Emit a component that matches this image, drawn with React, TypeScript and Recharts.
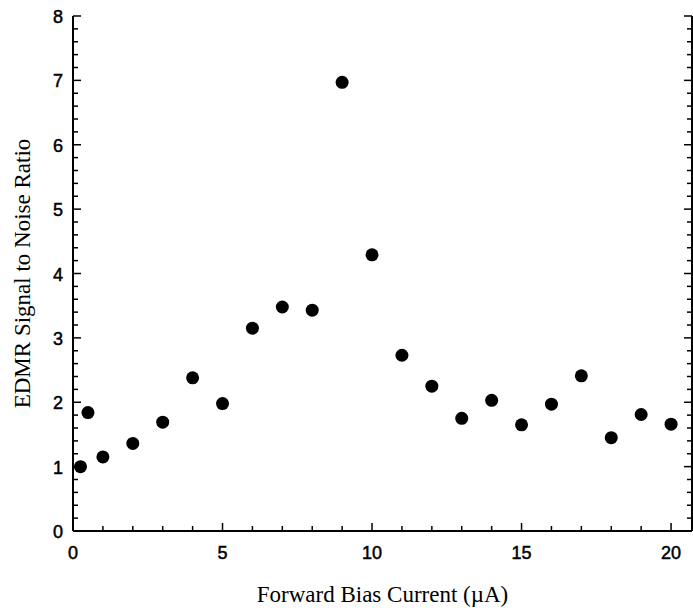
import React from 'react';
import { ScatterChart, Scatter, XAxis, YAxis } from 'recharts';

// Forward bias current (µA)
const currents = [0.25, 0.5, 1, 2, 3, 4, 5, 6, 7, 8, 9, 10, 11, 12, 13, 14, 15, 16, 17, 18, 19, 20];
// EDMR signal to noise ratio
const snr = [1.0, 1.84, 1.15, 1.36, 1.69, 2.38, 1.98, 3.15, 3.48, 3.43, 6.97, 4.29, 2.73, 2.25, 1.75, 2.03, 1.65, 1.97, 2.41, 1.45, 1.81, 1.66];

const xTicks = [0, 1, 2, 3, 4, 5, 6, 7, 8, 9, 10, 11, 12, 13, 14, 15, 16, 17, 18, 19, 20];
const xMajor = [0, 5, 10, 15, 20];
const yTicks = [
  0, 0.2, 0.4, 0.6, 0.8, 1, 1.2, 1.4, 1.6, 1.8, 2, 2.2, 2.4, 2.6, 2.8, 3, 3.2, 3.4, 3.6, 3.8,
  4, 4.2, 4.4, 4.6, 4.8, 5, 5.2, 5.4, 5.6, 5.8, 6, 6.2, 6.4, 6.6, 6.8, 7, 7.2, 7.4, 7.6, 7.8, 8,
];
const yMajor = [0, 1, 2, 3, 4, 5, 6, 7, 8];

const data = currents.map((x, i) => ({ x, y: snr[i] }));

const TICK_FONT = {
  fontFamily: '"Liberation Sans", Arial, sans-serif',
  fontSize: 18,
  fill: '#000',
  stroke: '#000',
  strokeWidth: 0.5,
};
const TITLE_FONT = { fontFamily: '"Liberation Serif", "Times New Roman", serif', fontSize: 23, fill: '#000' };

const BottomTick = (props: any) => {
  const { x, y, payload } = props;
  const major = xMajor.includes(payload.value);
  return (
    <g>
      <line x1={x} x2={x} y1={y} y2={y - (major ? 8 : 5)} stroke="#000" strokeWidth={1.5} />
      {major && (
        <text x={x} y={y + 28} textAnchor="middle" {...TICK_FONT}>
          {payload.value}
        </text>
      )}
    </g>
  );
};

const TopTick = (props: any) => {
  const { x, y, payload } = props;
  const major = xMajor.includes(payload.value);
  return <line x1={x} x2={x} y1={y} y2={y + (major ? 8 : 5)} stroke="#000" strokeWidth={1.5} />;
};

const LeftTick = (props: any) => {
  const { x, y, payload } = props;
  const major = yMajor.includes(payload.value);
  return (
    <g>
      <line x1={x} x2={x + (major ? 8 : 5)} y1={y} y2={y} stroke="#000" strokeWidth={1.5} />
      {major && (
        <text x={x - 10} y={y + 7} textAnchor="end" {...TICK_FONT}>
          {payload.value}
        </text>
      )}
    </g>
  );
};

const RightTick = (props: any) => {
  const { x, y, payload } = props;
  const major = yMajor.includes(payload.value);
  return <line x1={x} x2={x - (major ? 8 : 5)} y1={y} y2={y} stroke="#000" strokeWidth={1.5} />;
};

const Dot = (props: any) => <circle cx={props.cx} cy={props.cy} r={6.5} fill="#000" />;
const NoDot = () => <g />;

export default function App() {
  return (
    <div style={{ position: 'absolute', left: 0, top: 0, background: '#fff' }}>
      <ScatterChart width={693} height={611} margin={{ top: 16, right: 0, bottom: 40, left: 0 }}>
        <XAxis
          xAxisId="b"
          type="number"
          dataKey="x"
          domain={[0, 20.7]}
          ticks={xTicks}
          interval={0}
          tickSize={0}
          tickMargin={0}
          tickLine={false}
          height={40}
          axisLine={{ stroke: '#000', strokeWidth: 2 }}
          tick={BottomTick}
          label={{ value: 'Forward Bias Current (\u00b5A)', position: 'bottom', offset: 15, style: TITLE_FONT }}
        />
        <XAxis
          xAxisId="t"
          orientation="top"
          type="number"
          dataKey="x"
          domain={[0, 20.7]}
          ticks={xTicks}
          interval={0}
          tickSize={0}
          tickMargin={0}
          tickLine={false}
          height={0}
          axisLine={{ stroke: '#000', strokeWidth: 2 }}
          tick={TopTick}
        />
        <YAxis
          yAxisId="l"
          type="number"
          dataKey="y"
          domain={[0, 8]}
          ticks={yTicks}
          interval={0}
          tickSize={0}
          tickMargin={0}
          tickLine={false}
          width={73}
          axisLine={{ stroke: '#000', strokeWidth: 2 }}
          tick={LeftTick}
          label={{
            value: 'EDMR Signal to Noise Ratio',
            angle: -90,
            position: 'insideLeft',
            offset: 22,
            style: { ...TITLE_FONT, textAnchor: 'middle' },
          }}
        />
        <YAxis
          yAxisId="r"
          orientation="right"
          type="number"
          dataKey="y"
          domain={[0, 8]}
          ticks={yTicks}
          interval={0}
          tickSize={0}
          tickMargin={0}
          tickLine={false}
          width={1}
          axisLine={{ stroke: '#000', strokeWidth: 2 }}
          tick={RightTick}
        />
        <Scatter data={data} xAxisId="b" yAxisId="l" shape={Dot} isAnimationActive={false} />
        <Scatter data={data} xAxisId="t" yAxisId="r" shape={NoDot} isAnimationActive={false} />
      </ScatterChart>
    </div>
  );
}
